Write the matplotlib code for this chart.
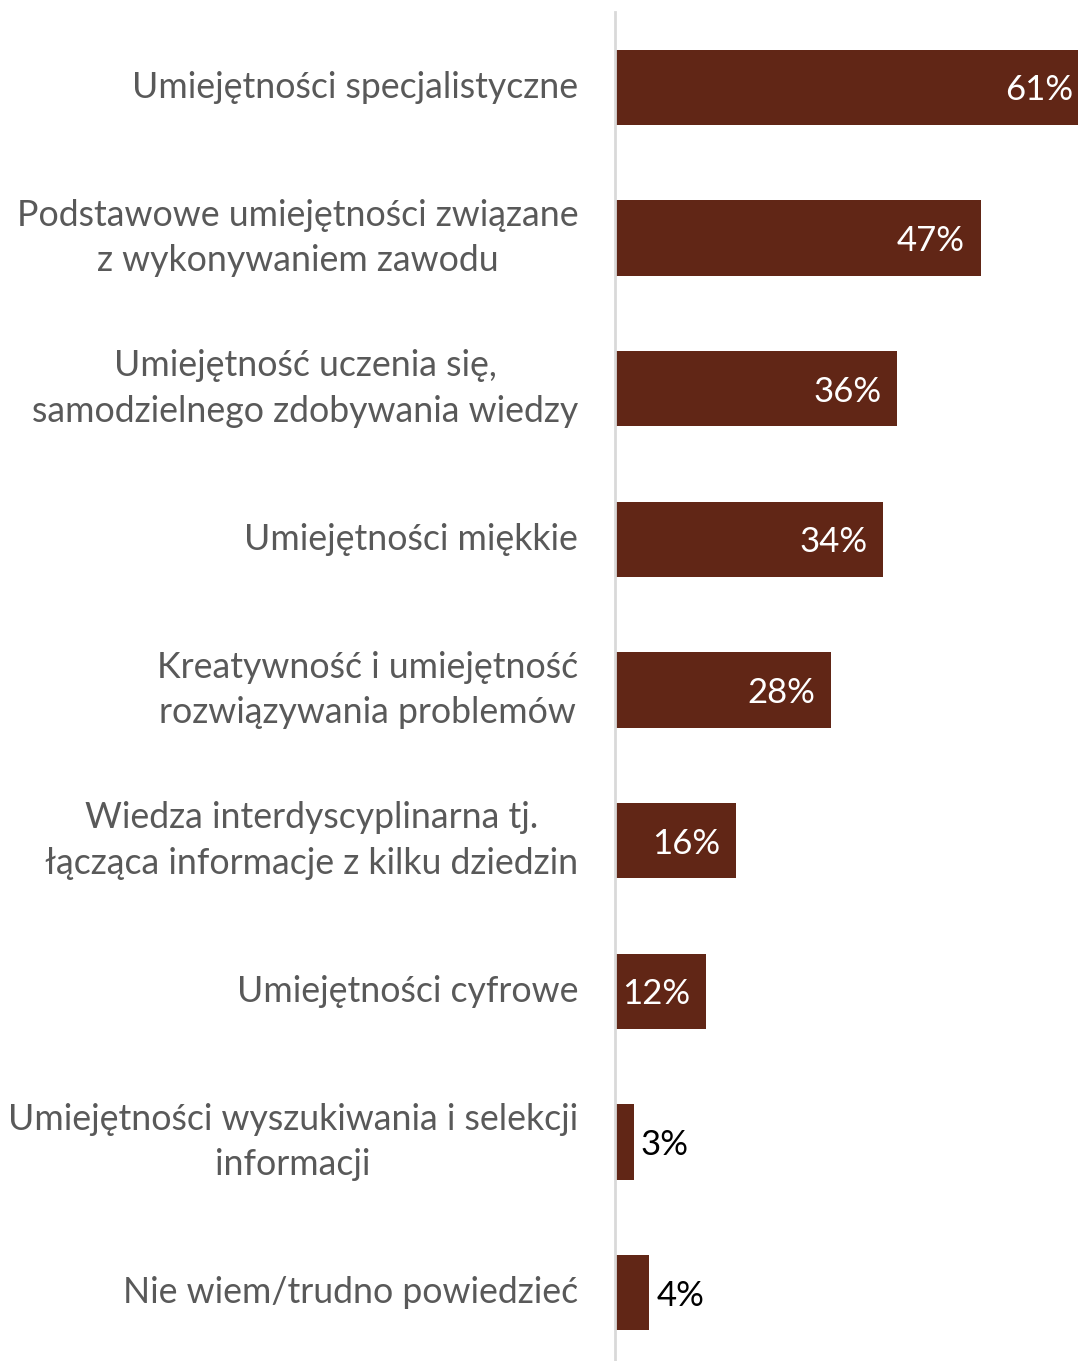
import matplotlib.pyplot as plt
import numpy as np

categories = ["Umiejętności specjalistyczne",
              "Podstawowe umiejętności związane\nz wykonywaniem zawodu",
              "Umiejętność uczenia się,\nsamodzielnego zdobywania wiedzy",
              "Umiejętności miękkie",
              "Kreatywność i umiejętność\nrozwiązywania problemów",
              "Wiedza interdyscyplinarna tj.\nłącząca informacje z kilku dziedzin",
              "Umiejętności cyfrowe",
              "Umiejętności wyszukiwania i selekcji\ninformacji",
              "Nie wiem/trudno powiedzieć"]
values = [61.0, 46.9, 36.2, 34.4, 27.7, 15.5, 11.7, 2.4, 4.4]
valueLabels = ["61%", "47%", "36%", "34%", "28%", "16%", "12%", "3%", "4%"]

barColor  = "#612616"
labelGray = "#595959"

plt.rcParams['font.family'] = ['Lato', 'DejaVu Sans']

fig = plt.figure(figsize=(10.78, 13.61), dpi=100)
axLeft   = 615 / 1078
axTop    = 1 - 12 / 1361
axHeight = 1356 / 1361
ax = fig.add_axes([axLeft, axTop - axHeight, 1 - axLeft, axHeight])

yPos = np.arange(len(categories))
ax.barh(yPos, values, height=0.5, color=barColor)
xMax = (1078 - 615) / 7.8
ax.set_xlim(0, xMax)
ax.set_ylim(len(categories) - 0.5, -0.5)

for s in ["top", "right", "bottom"]:
    ax.spines[s].set_visible(False)
ax.spines["left"].set_color("#d9d9d9")
ax.spines["left"].set_linewidth(2)
ax.set_xticks([])
ax.set_yticks(yPos)
ax.set_yticklabels(categories, fontsize=25.7, color=labelGray, multialignment="center",
                   linespacing=1.48, va="center")
ax.tick_params(axis="y", length=0, pad=26.5)

for y, v, lab in zip(yPos, values, valueLabels):
    if v > 8:
        xEnd = min(v, xMax)
        off = -5 if v > xMax else -16
        ax.annotate(lab, (xEnd, y), xytext=(off, 0), textcoords="offset pixels",
                    ha="right", va="center_baseline", color="white", fontsize=25)
    else:
        ax.annotate(lab, (v, y), xytext=(7, 0), textcoords="offset pixels",
                    ha="left", va="center_baseline", color="black", fontsize=25)

fig.savefig("out.png", dpi=100)
